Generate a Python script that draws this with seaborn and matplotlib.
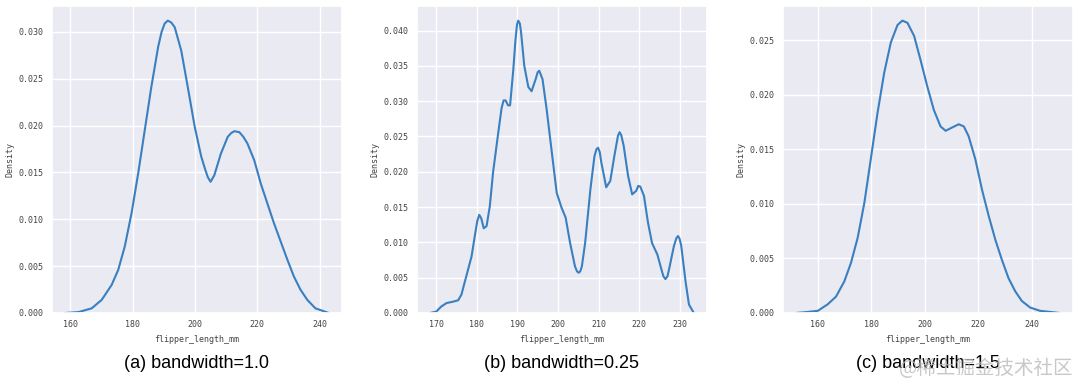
import matplotlib
matplotlib.use("Agg")
import matplotlib.pyplot as plt
import seaborn as sns
import pandas as pd

# density curves (flipper_length_mm, Density)
x_a = [158.4, 162.7, 166.9, 170.1, 173.3, 175.4, 177.5, 179.7, 181.8, 183.9,
       186.0, 188.2, 189.3, 190.3, 191.3, 192.4, 193.5, 195.6, 197.7, 199.9,
       202.0, 203.2, 204.1, 205.0, 206.2, 207.2, 208.3, 210.5, 211.6, 212.6,
       214.2, 215.5, 216.8, 219.0, 221.1, 223.2, 225.3, 227.5, 229.6, 231.7,
       233.8, 236.0, 238.6, 242.9]
y_a = [0.0000, 0.0001, 0.0005, 0.0014, 0.0030, 0.0046, 0.0071, 0.0107, 0.0149, 0.0195,
       0.0241, 0.0284, 0.0300, 0.0309, 0.0312, 0.0310, 0.0305, 0.0280, 0.0241, 0.0199,
       0.0167, 0.0154, 0.0145, 0.0140, 0.0147, 0.0158, 0.0170, 0.0188, 0.0192, 0.0194,
       0.0193, 0.0188, 0.0181, 0.0163, 0.0138, 0.0117, 0.0096, 0.0076, 0.0057, 0.0039,
       0.0025, 0.0014, 0.0005, 0.0000]

x_b = [168.5, 170.0, 171.2, 172.5, 174.1, 175.4, 176.2, 177.4, 178.7, 179.5,
       180.1, 180.6, 181.1, 181.7, 182.4, 183.2, 184.0, 185.3, 186.1, 186.6,
       187.1, 187.7, 188.2, 189.0, 189.5, 189.9, 190.2, 190.6, 190.9, 191.7,
       192.7, 193.5, 194.5, 195.0, 195.4, 196.2, 197.2, 198.5, 199.7, 200.9,
       201.9, 203.0, 204.2, 204.7, 205.1, 205.5, 205.9, 206.7, 208.0, 209.0,
       209.5, 209.9, 210.3, 210.7, 211.9, 212.9, 213.9, 214.8, 215.2, 215.6,
       216.2, 217.3, 218.3, 219.3, 219.8, 220.3, 221.2, 222.2, 223.2, 224.5,
       225.5, 226.0, 226.5, 227.0, 227.4, 228.6, 229.2, 229.6, 230.0, 230.4,
       231.5, 232.3, 233.5]
y_b = [0.0000, 0.0002, 0.0009, 0.0014, 0.0016, 0.0018, 0.0026, 0.0052, 0.0080, 0.0109,
       0.0130, 0.0139, 0.0134, 0.0120, 0.0123, 0.0151, 0.0199, 0.0256, 0.0290, 0.0301,
       0.0301, 0.0294, 0.0294, 0.0345, 0.0385, 0.0408, 0.0414, 0.0410, 0.0398, 0.0350,
       0.0320, 0.0314, 0.0331, 0.0341, 0.0343, 0.0331, 0.0289, 0.0227, 0.0170, 0.0149,
       0.0135, 0.0099, 0.0066, 0.0059, 0.0057, 0.0059, 0.0066, 0.0099, 0.0175, 0.0222,
       0.0232, 0.0234, 0.0228, 0.0213, 0.0178, 0.0187, 0.0222, 0.0251, 0.0256, 0.0252,
       0.0237, 0.0194, 0.0168, 0.0173, 0.0180, 0.0179, 0.0166, 0.0128, 0.0099, 0.0083,
       0.0062, 0.0052, 0.0048, 0.0052, 0.0062, 0.0095, 0.0106, 0.0109, 0.0105, 0.0095,
       0.0043, 0.0012, 0.0000]

x_c = [151.9, 156.3, 160.0, 163.7, 166.8, 169.9, 172.4, 174.9, 177.4, 179.8,
       182.3, 184.8, 187.3, 189.8, 191.6, 193.5, 196.0, 198.4, 200.9, 203.4,
       205.9, 207.8, 210.2, 212.7, 214.6, 216.4, 218.9, 221.4, 223.9, 226.4,
       228.8, 231.3, 233.8, 236.3, 239.4, 243.1, 250.5]
y_c = [0.0000, 0.0001, 0.0002, 0.0008, 0.0015, 0.0029, 0.0046, 0.0069, 0.0101, 0.0141,
       0.0183, 0.0220, 0.0248, 0.0264, 0.0268, 0.0266, 0.0254, 0.0232, 0.0208, 0.0186,
       0.0171, 0.0167, 0.0170, 0.0173, 0.0171, 0.0162, 0.0141, 0.0113, 0.0089, 0.0067,
       0.0049, 0.0032, 0.0020, 0.0011, 0.0005, 0.0002, 0.0000]

captions = ["(a) bandwidth=1.0", "(b) bandwidth=0.25", "(c) bandwidth=1.5"]
xticks = [[160, 180, 200, 220, 240], [170, 180, 190, 200, 210, 220, 230], [160, 180, 200, 220, 240]]

sns.set_theme(style="darkgrid")

fig = plt.figure(figsize=(10.8, 3.86), dpi=100)
lefts = [52, 417, 783]
curves = [(x_a, y_a), (x_b, y_b), (x_c, y_c)]

for i, (xs, ys) in enumerate(curves):
    ax = fig.add_axes([lefts[i] / 1080, 73 / 386, 290 / 1080, 307 / 386])
    df = pd.DataFrame({"flipper_length_mm": xs, "Density": ys})
    sns.lineplot(data=df, x="flipper_length_mm", y="Density", ax=ax,
                 color="#3a7fc0", linewidth=1.5)
    top = max(ys) * 1.05
    ax.set_ylim(0, top)
    ax.set_xticks(xticks[i])
    yt = [t for t in ax.get_yticks() if 0 <= t <= top]
    ax.set_yticks(yt)
    ax.set_yticklabels([f"{v:.3f}" for v in yt])
    for lab in ax.get_xticklabels() + ax.get_yticklabels():
        lab.set_family("DejaVu Sans Mono")
        lab.set_fontsize(6)
        lab.set_color("#444444")
    ax.tick_params(axis="x", length=0, pad=5)
    ax.tick_params(axis="y", length=0, pad=6)
    ax.set_xlabel("flipper_length_mm", family="DejaVu Sans Mono", fontsize=6, color="#444444")
    ax.set_ylabel("Density", family="DejaVu Sans Mono", fontsize=6, color="#444444", labelpad=3)
    fig.text((lefts[i] + 145) / 1080, 23 / 386, captions[i], ha="center", va="center",
             family="Liberation Sans", fontsize=13, color="black")

# watermark
fig.text(1073 / 1080, 18 / 386, "@稀土掘金技术社区", ha="right", va="center",
         family=["Noto Sans CJK SC", "DejaVu Sans"], fontsize=14, color="#bbbbbb", alpha=0.8)

fig.savefig("out.png", dpi=100)
